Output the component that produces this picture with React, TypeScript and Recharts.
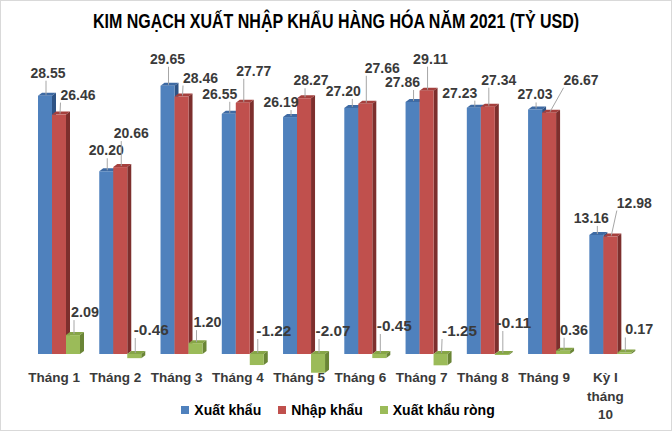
import React from 'react';
import { BarChart, Bar, XAxis, YAxis, LabelList } from 'recharts';

const categories = [
  'Tháng 1', 'Tháng 2', 'Tháng 3', 'Tháng 4', 'Tháng 5',
  'Tháng 6', 'Tháng 7', 'Tháng 8', 'Tháng 9', 'Kỳ I tháng 10',
];
const xuatKhau = [28.55, 20.2, 29.65, 26.55, 26.19, 27.2, 27.86, 27.23, 27.03, 13.16];
const nhapKhau = [26.46, 20.66, 28.46, 27.77, 28.27, 27.66, 29.11, 27.34, 26.67, 12.98];
const xuatKhauRong = [2.09, -0.46, 1.2, -1.22, -2.07, -0.45, -1.25, -0.11, 0.36, 0.17];

// label nudges (dx, dy from the top of each bar), hand placed like the Excel original
const xuatKhauLabelPos = [[3, -23], [0, -21], [0, -27], [-9, -20], [-9, -15], [-8, -17], [-10, -20], [-14, -15], [0, -15], [-5, -17]];
const nhapKhauLabelPos = [[19, -20], [11, -34], [19, -19], [11, -32], [7, -18], [17, -36], [4, -32], [11, -27], [32, -33], [24, -34]];
const rongLabelPos = [[12, -23], [17, -24], [12, -21], [17, -23], [15, -23], [15, -28], [19, -23], [12, -31], [11, -21], [15, -23]];

const data = categories.map((name, i) => ({
  name,
  xk: xuatKhau[i],
  nk: nhapKhau[i],
  rong: xuatKhauRong[i],
}));

const FONT = '"Liberation Sans", Arial, sans-serif';
const DX = 4;
const DY = 3;

const series = [
  { key: 'xk', name: 'Xuất khẩu', front: '#4F81BD', top: '#3E6AA3', side: '#2E5385', values: xuatKhau, pos: xuatKhauLabelPos },
  { key: 'nk', name: 'Nhập khẩu', front: '#C0504D', top: '#A5403D', side: '#7D2F2D', values: nhapKhau, pos: nhapKhauLabelPos },
  { key: 'rong', name: 'Xuất khẩu ròng', front: '#9BBB59', top: '#86A547', side: '#6A8536', values: xuatKhauRong, pos: rongLabelPos },
];

const Box3D = (props: any) => {
  const { x, y, width, height, front, top: topFill, side } = props;
  if (x == null || width == null) return null;
  const top = Math.min(y, y + height);
  const h = Math.abs(height);
  const r = x + width;
  return (
    <g>
      <polygon points={`${x},${top} ${x + DX},${top - DY} ${r + DX},${top - DY} ${r},${top}`} fill={topFill} />
      <polygon points={`${r},${top} ${r + DX},${top - DY} ${r + DX},${top + h - DY} ${r},${top + h}`} fill={side} />
      <rect x={x} y={top} width={width} height={h} fill={front} />
    </g>
  );
};

const makeLabel = (values: number[], pos: number[][]) => (props: any) => {
  const vb = props.viewBox || props;
  const { x, y, width, height } = vb;
  const value = Number(props.value);
  let idx = props.index;
  if (idx == null || values[idx] !== value) idx = values.indexOf(value);
  if (idx < 0 || x == null) return null;
  const top = Math.min(y, y + height);
  const cx = x + width / 2;
  const lx = cx + pos[idx][0];
  const ly = top + pos[idx][1];
  const text = value.toFixed(2);
  const w = text.length * 7;
  // leader line to nearest edge of label box
  const bx = Math.max(lx - w / 2, Math.min(cx + 1, lx + w / 2));
  const by = Math.max(ly - 8, Math.min(top - 1, ly + 8));
  const dist = Math.hypot(bx - (cx + 1), by - (top - 1));
  return (
    <g>
      {dist > 4 && (
        <line x1={cx + 1} y1={top - 1} x2={bx} y2={by} stroke="#a6a6a6" strokeWidth={1} />
      )}
      <text x={lx} y={ly + 5} textAnchor="middle" fontFamily={FONT} fontWeight="bold" fontSize={14.5}
        fill="#3a3a3a" textLength={text.length * 7} lengthAdjust="spacingAndGlyphs">
        {text}
      </text>
    </g>
  );
};

const wrap = (s: string, max: number) => {
  const lines: string[] = [];
  s.split(' ').forEach((w) => {
    const last = lines[lines.length - 1];
    if (last && (last + ' ' + w).length <= max) lines[lines.length - 1] = last + ' ' + w;
    else lines.push(w);
  });
  return lines;
};

const CategoryTick = (props: any) => {
  const { x, y, payload } = props;
  const lines = wrap(String(payload.value), 7);
  return (
    <text x={x - 4.5} y={y - 2.5} textAnchor="middle" fontFamily={FONT} fontWeight="bold" fontSize={13.5} fill="#3a3a3a">
      {lines.map((l, i) => (
        <tspan key={i} x={x - 4.5} dy={i === 0 ? 0 : 18.5}>{l}</tspan>
      ))}
    </text>
  );
};

export default function App() {
  return (
    <div style={{ position: 'absolute', left: 0, top: 0, width: 672, height: 432, background: '#fff' }}>
      <BarChart
        width={672}
        height={432}
        data={data}
        margin={{ top: 78.07, right: 31.4, left: 28, bottom: 15.38 }}
        barGap={0}
        barSize={14}
      >
        <XAxis dataKey="name" axisLine={false} tickLine={false} height={40} interval={0} tick={<CategoryTick />} />
        <YAxis hide domain={[-2.5, 30.5]} allowDataOverflow />
        {series.map((s) => (
          <Bar
            key={s.key}
            dataKey={s.key}
            name={s.name}
            fill={s.front}
            isAnimationActive={false}
            shape={(p: any) => <Box3D {...p} front={s.front} top={s.top} side={s.side} />}
          >
            <LabelList dataKey={s.key} content={makeLabel(s.values, s.pos)} />
          </Bar>
        ))}
      </BarChart>

      <svg width={672} height={60} style={{ position: 'absolute', left: 0, top: 0 }}>
        <text transform="translate(336 28) scale(0.8 1)" x={0} y={0} textAnchor="middle"
          fontFamily={FONT} fontWeight="bold" fontSize={20} fill="#000">
          KIM NGẠCH XUẤT NHẬP KHẨU HÀNG HÓA NĂM 2021 (TỶ USD)
        </text>
      </svg>

      <div style={{
        position: 'absolute', left: 0, top: 400, width: 672, height: 20,
        display: 'flex', justifyContent: 'center', alignItems: 'center',
        fontFamily: FONT, fontWeight: 'bold', fontSize: 14, color: '#000', paddingLeft: 4, boxSizing: 'border-box',
      }}>
        {series.map((s, i) => (
          <div key={s.key} style={{ display: 'flex', alignItems: 'center', marginLeft: i === 0 ? 0 : 17 }}>
            <span style={{ width: 8, height: 8, background: s.front, marginRight: 5, display: 'inline-block' }} />
            <span>{s.name}</span>
          </div>
        ))}
      </div>

      <div style={{
        position: 'absolute', left: 0, top: 0, width: 672, height: 431,
        border: '1px solid #d9d9d9', boxSizing: 'border-box', pointerEvents: 'none',
      }} />
    </div>
  );
}
